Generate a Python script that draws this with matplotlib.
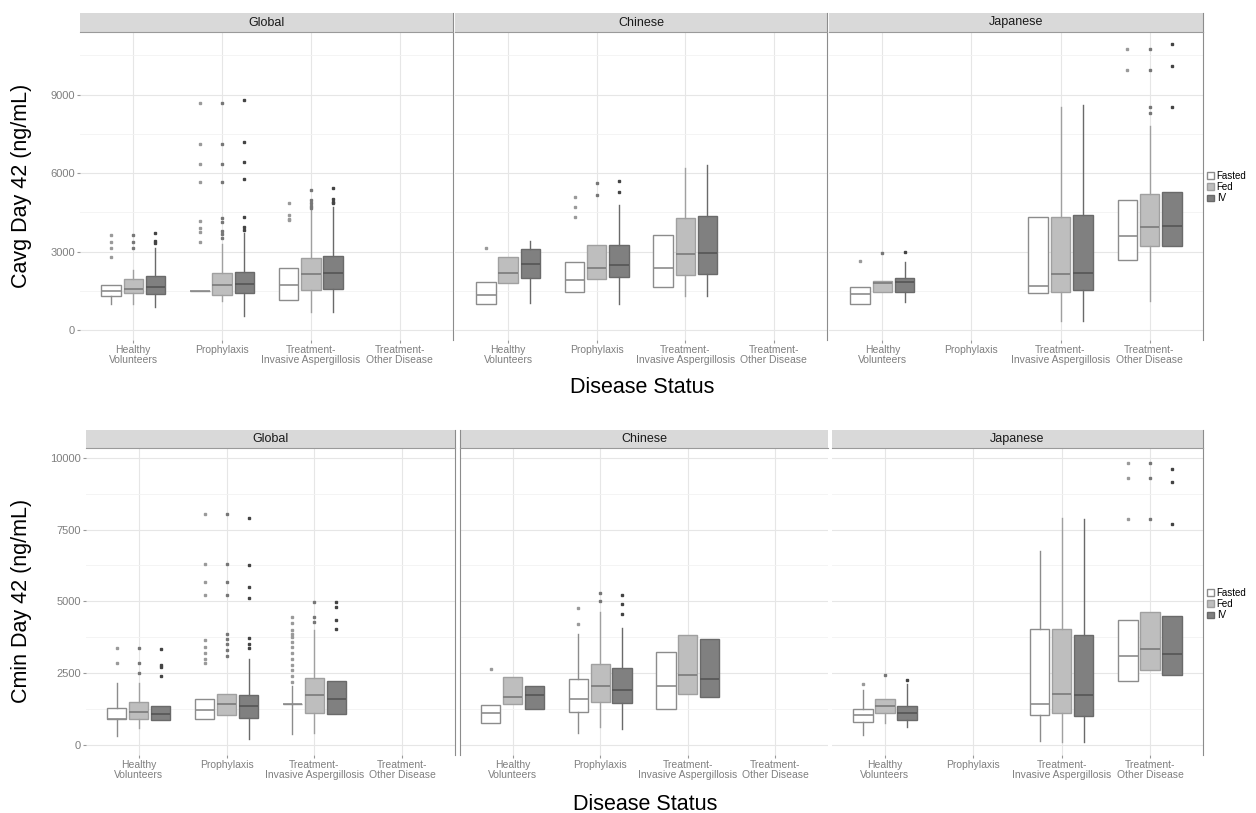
import matplotlib as mpl
mpl.use('Agg')
import matplotlib.pyplot as plt
from matplotlib.patches import Patch

plt.rcParams['font.family'] = ['Liberation Sans', 'DejaVu Sans']

groups = ['Healthy\nVolunteers', 'Prophylaxis', 'Treatment-\nInvasive Aspergillosis', 'Treatment-\nOther Disease']
regions = ['Global', 'Chinese', 'Japanese']
routes = ['Fasted', 'Fed', 'IV']

# (group index, route, whisker low, q1, median, q3, whisker high, outliers)
cavg_global = [
    (0, 'Fasted', 990, 1300, 1500, 1720, 1720, [3650, 3350, 3150, 2800]),
    (0, 'Fed', 990, 1410, 1570, 1950, 2300, [3650, 3350, 3150]),
    (0, 'IV', 880, 1380, 1640, 2060, 3130, [3700, 3400, 3320]),
    (1, 'Fasted', 1490, 1490, 1490, 1490, 1490, [8670, 7100, 6340, 5650, 4160, 3900, 3740, 3360]),
    (1, 'Fed', 1110, 1340, 1720, 2180, 3300, [8670, 7100, 6340, 5650, 4280, 4130, 3780, 3670, 3530]),
    (1, 'IV', 540, 1410, 1760, 2220, 3700, [8790, 7180, 6420, 5770, 4320, 3930, 3820]),
    (2, 'Fasted', 1150, 1150, 1720, 2370, 2370, [4850, 4390, 4250, 4200]),
    (2, 'Fed', 690, 1530, 2140, 2750, 4600, [5350, 4970, 4850, 4750, 4660]),
    (2, 'IV', 690, 1570, 2180, 2830, 4700, [5420, 5000, 4900, 4850]),
]
cavg_chinese = [
    (0, 'Fasted', 990, 990, 1340, 1830, 1830, [3130]),
    (0, 'Fed', 1790, 1790, 2180, 2790, 2790, []),
    (0, 'IV', 1030, 1990, 2520, 3090, 3400, []),
    (1, 'Fasted', 1450, 1450, 1910, 2600, 2600, [5080, 4700, 4320]),
    (1, 'Fed', 1950, 1950, 2370, 3250, 3250, [5610, 5160]),
    (1, 'IV', 990, 2030, 2480, 3250, 4770, [5690, 5270]),
    (2, 'Fasted', 1640, 1640, 2370, 3630, 3630, []),
    (2, 'Fed', 1300, 2100, 2900, 4280, 6190, []),
    (2, 'IV', 1300, 2140, 2940, 4350, 6300, []),
]
cavg_japanese = [
    (0, 'Fasted', 990, 990, 1380, 1640, 1640, [2640]),
    (0, 'Fed', 1450, 1450, 1800, 1870, 1870, [2940]),
    (0, 'IV', 1070, 1450, 1830, 1990, 2600, [2980]),
    (2, 'Fasted', 1410, 1410, 1680, 4320, 4320, []),
    (2, 'Fed', 340, 1450, 2140, 4320, 8520, []),
    (2, 'IV', 340, 1530, 2180, 4390, 8600, []),
    (3, 'Fasted', 2670, 2670, 3590, 4970, 4970, [10730, 9930]),
    (3, 'Fed', 1110, 3210, 3930, 5190, 7790, [10730, 9930, 8520, 8290]),
    (3, 'IV', 3210, 3210, 3970, 5270, 5270, [10930, 10080, 8520]),
]
cmin_global = [
    (0, 'Fasted', 310, 900, 900, 1290, 2160, [3380, 2850]),
    (0, 'Fed', 590, 890, 1160, 1480, 2160, [3380, 2850, 2500]),
    (0, 'IV', 870, 870, 1070, 1360, 1360, [3360, 2800, 2720, 2390]),
    (1, 'Fasted', 890, 890, 1210, 1600, 1600, [8060, 6310, 5670, 5210, 3640, 3400, 3200, 3000, 2850]),
    (1, 'Fed', 1040, 1040, 1420, 1790, 1790, [8060, 6310, 5670, 5210, 3870, 3700, 3500, 3300, 3100]),
    (1, 'IV', 200, 950, 1360, 1740, 3010, [7920, 6250, 5490, 5120, 3710, 3500, 3370]),
    (2, 'Fasted', 370, 1420, 1420, 1420, 2050,
     [4450, 4250, 4000, 3850, 3750, 3600, 3400, 3200, 3000, 2800, 2600, 2400, 2200]),
    (2, 'Fed', 430, 1130, 1740, 2340, 3990, [4970, 4450, 4280]),
    (2, 'IV', 1070, 1070, 1600, 2220, 2220, [4970, 4800, 4360, 4050]),
]
cmin_chinese = [
    (0, 'Fasted', 770, 770, 1100, 1410, 1410, [2660]),
    (0, 'Fed', 1420, 1420, 1680, 2370, 2370, []),
    (0, 'IV', 1240, 1240, 1740, 2060, 2060, []),
    (1, 'Fasted', 430, 1160, 1600, 2310, 3880, [4780, 4220]),
    (1, 'Fed', 640, 1500, 2050, 2810, 4630, [5290, 5030]),
    (1, 'IV', 560, 1470, 1910, 2680, 4070, [5210, 4920, 4570]),
    (2, 'Fasted', 1270, 1270, 2050, 3240, 3240, []),
    (2, 'Fed', 1790, 1790, 2420, 3820, 3820, []),
    (2, 'IV', 1660, 1660, 2300, 3680, 3680, []),
]
cmin_japanese = [
    (0, 'Fasted', 350, 810, 1040, 1270, 1910, [2140]),
    (0, 'Fed', 750, 1130, 1360, 1610, 1610, [2430]),
    (0, 'IV', 640, 870, 1100, 1360, 2140, [2280]),
    (2, 'Fasted', 150, 1040, 1420, 4050, 6770, []),
    (2, 'Fed', 120, 1130, 1790, 4050, 7920, []),
    (2, 'IV', 90, 1020, 1730, 3820, 7870, []),
    (3, 'Fasted', 2220, 2220, 3110, 4340, 4340, [9830, 9290, 7870]),
    (3, 'Fed', 2600, 2600, 3360, 4630, 4630, [9830, 9290, 7870]),
    (3, 'IV', 2450, 2450, 3180, 4480, 4480, [9600, 9140, 7690]),
]

cavg_ticks = [0, 3000, 6000, 9000]
cavg_minor = [1500, 4500, 7500, 10500]
cmin_ticks = [0, 2500, 5000, 7500, 10000]
cmin_minor = [1250, 3750, 6250, 8750]

fill = {'Fasted': 'white', 'Fed': '#bebebe', 'IV': '#808080'}
edge = {'Fasted': '#8c8c8c', 'Fed': '#a0a0a0', 'IV': '#6a6a6a'}
mid = {'Fasted': '#8c8c8c', 'Fed': '#7a7a7a', 'IV': '#555555'}
pt = {'Fasted': '#9a9a9a', 'Fed': '#777777', 'IV': '#444444'}
offset = {'Fasted': -0.25, 'Fed': 0.0, 'IV': 0.25}

W, H = 1256, 813
fig = plt.figure(figsize=(W / 100, H / 100), dpi=100)


def px_axes(x0, x1, y0, y1):
    return fig.add_axes([x0 / W, 1 - y1 / H, (x1 - x0) / W, (y1 - y0) / H])


def draw_panel(ax, rows, ylim, ticks, minor, show_y, right_line, left_line):
    for r in routes:
        stats, pos = [], []
        for g, route, lo, q1, med, q3, hi, fl in rows:
            if route != r:
                continue
            stats.append(dict(whislo=lo, q1=q1, med=med, q3=q3, whishi=hi, fliers=fl))
            pos.append(g + 1 + offset[r])
        if not stats:
            continue
        ax.bxp(stats, positions=pos, widths=0.22, patch_artist=True, showcaps=False,
               boxprops=dict(facecolor=fill[r], edgecolor=edge[r], linewidth=1.0),
               medianprops=dict(color=mid[r], linewidth=1.2),
               whiskerprops=dict(color=edge[r], linewidth=1.0),
               flierprops=dict(marker='s', markersize=1.6, markerfacecolor=pt[r],
                               markeredgecolor=pt[r], linestyle='none'))
    ax.set_xlim(0.4, 4.6)
    ax.set_ylim(*ylim)
    ax.set_xticks(range(1, 5))
    ax.set_xticklabels(groups, fontsize=7.5, color='#7f7f7f', linespacing=1.0)
    ax.set_yticks(ticks)
    ax.set_yticks(minor, minor=True)
    ax.tick_params(axis='y', which='minor', length=0)
    ax.tick_params(length=2.5, color='#999999', pad=1)
    if show_y:
        ax.set_yticklabels([str(t) for t in ticks], fontsize=8, color='#7f7f7f')
    else:
        ax.tick_params(axis='y', which='both', left=False, labelleft=False)
    ax.grid(True, which='major', color='#e6e6e6', linewidth=0.8)
    ax.grid(True, which='minor', axis='y', color='#f2f2f2', linewidth=0.6)
    ax.set_axisbelow(True)
    for s in ['top', 'bottom', 'left', 'right']:
        ax.spines[s].set_visible(False)
    if right_line:
        ax.spines['right'].set_visible(True)
        ax.spines['right'].set_color('#8c8c8c')
    if left_line:
        ax.spines['left'].set_visible(True)
        ax.spines['left'].set_color('#8c8c8c')


def draw_strip(x0, x1, y0, y1, label, right_line, left_line):
    s = px_axes(x0, x1, y0, y1)
    s.set_facecolor('#d9d9d9')
    s.set_xticks([])
    s.set_yticks([])
    for sp in ['top', 'left', 'right']:
        s.spines[sp].set_visible(False)
    s.spines['bottom'].set_color('#9a9a9a')
    if right_line:
        s.spines['right'].set_visible(True)
        s.spines['right'].set_color('#8c8c8c')
    if left_line:
        s.spines['left'].set_visible(True)
        s.spines['left'].set_color('#8c8c8c')
    s.text(0.5, 0.5, label, ha='center', va='center', fontsize=9, color='#1a1a1a',
           transform=s.transAxes)


# top row: Cavg
top_x = [(80, 453), (455, 827), (829, 1203)]
top_data = [cavg_global, cavg_chinese, cavg_japanese]
for i, ((x0, x1), rows) in enumerate(zip(top_x, top_data)):
    ax = px_axes(x0, x1, 32, 340)
    draw_panel(ax, rows, (-382, 11390), cavg_ticks, cavg_minor, i == 0, True, False)
    draw_strip(x0, x1, 13, 32, regions[i], True, False)

# bottom row: Cmin
bot_x = [(86, 455), (460, 828), (832, 1203)]
bot_data = [cmin_global, cmin_chinese, cmin_japanese]
bot_right = [True, False, True]
bot_left = [False, True, False]
for i, ((x0, x1), rows) in enumerate(zip(bot_x, bot_data)):
    ax = px_axes(x0, x1, 448, 755)
    draw_panel(ax, rows, (-348, 10341), cmin_ticks, cmin_minor, i == 0, bot_right[i], bot_left[i])
    draw_strip(x0, x1, 430, 448, regions[i], bot_right[i], bot_left[i])

fig.text(22 / W, 1 - 186 / H, 'Cavg Day 42 (ng/mL)', rotation=90, ha='center', va='center', fontsize=15.5)
fig.text(22 / W, 1 - 601 / H, 'Cmin Day 42 (ng/mL)', rotation=90, ha='center', va='center', fontsize=15.5)
fig.text(642 / W, 1 - 387 / H, 'Disease Status', ha='center', va='center', fontsize=15.5)
fig.text(645 / W, 1 - 804 / H, 'Disease Status', ha='center', va='center', fontsize=15.5)

handles = [Patch(facecolor=fill[r], edgecolor=edge[r], label=r) for r in routes]
for yc in [187, 604]:
    fig.legend(handles=handles, loc='center left', bbox_to_anchor=(1207 / W, 1 - yc / H),
               fontsize=7, frameon=False, handlelength=0.7, handleheight=0.7,
               handletextpad=0.3, labelspacing=0.15, borderpad=0, borderaxespad=0)

fig.savefig('out.png', dpi=100)
